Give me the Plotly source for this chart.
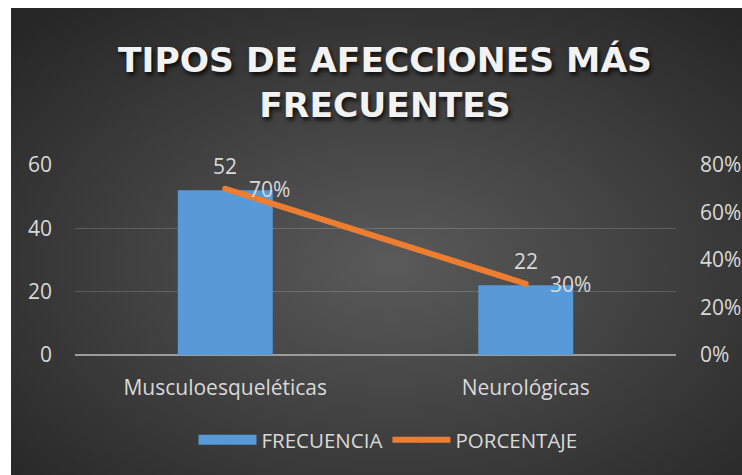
import base64
import plotly.graph_objects as go

categories = ["Musculoesqueléticas", "Neurológicas"]
frecuencia = [52, 22]
porcentaje = [0.70, 0.30]
left_ticks = [0, 20, 40, 60]
right_ticks = [0, 0.2, 0.4, 0.6, 0.8]
right_tick_labels = ["0%", "20%", "40%", "60%", "80%"]
title_text = "TIPOS DE AFECCIONES MÁS<br>FRECUENTES"

W, H = 742, 475
L, R, T, B = 75, 66, 165, 120
pw, ph = W - L - R, H - T - B
# dark chart area (white strip on left/top like the reference)
DX, DY, DW, DH = 11, 8, 731, 467

svg = (
    f'<svg xmlns="http://www.w3.org/2000/svg" width="{DW}" height="{DH}" viewBox="0 0 {DW} {DH}" preserveAspectRatio="none">'
    '<defs><radialGradient id="g" cx="0.52" cy="0.55" r="0.72">'
    '<stop offset="0" stop-color="#5a5a5a"/><stop offset="1" stop-color="#262626"/>'
    f'</radialGradient></defs><rect width="{DW}" height="{DH}" fill="url(#g)"/></svg>'
)
src = "data:image/svg+xml;base64," + base64.b64encode(svg.encode()).decode()

txt = "#d9d9d9"
FONT = "Open Sans"
FS = 21
fig = go.Figure()
fig.add_trace(go.Bar(
    x=categories, y=frecuencia, name="FRECUENCIA", showlegend=False,
    marker=dict(color="#5899d8", line=dict(width=0)), width=0.316,
))
# legend entry for the bars (wide rectangle swatch)
fig.add_trace(go.Scatter(
    x=[None], y=[None], name="FRECUENCIA", mode="lines",
    line=dict(color="#5899d8", width=14),
))
fig.add_trace(go.Scatter(
    x=categories, y=porcentaje, name="PORCENTAJE", yaxis="y2",
    mode="lines+markers", line=dict(color="#ed7d31", width=6),
    marker=dict(color="#ed7d31", size=6),
))

ann = []
for c, v in zip(categories, frecuencia):
    ann.append(dict(x=c, y=v, xref="x", yref="y", text=str(v), showarrow=False,
                    yanchor="middle", yshift=24, font=dict(family=FONT, size=FS, color=txt)))
for c, p in zip(categories, porcentaje):
    ann.append(dict(x=c, y=p, xref="x", yref="y2", text=f"{round(p*100)}%", showarrow=False,
                    xanchor="left", xshift=22, yanchor="middle",
                    font=dict(family=FONT, size=FS, color=txt)))

fig.update_layout(
    width=W, height=H,
    margin=dict(l=L, r=R, t=T, b=B, pad=0, autoexpand=False),
    paper_bgcolor="white", plot_bgcolor="rgba(0,0,0,0)",
    title=dict(text=title_text, x=385 / W, xref="container", xanchor="center",
               y=1 - 72 / H, yref="container", yanchor="middle",
               font=dict(family="DejaVu Sans", size=34.5, color="#f2f2f2", weight="bold",
                         shadow="2px 3px 4px rgba(0,0,0,0.8)")),
    images=[dict(source=src, xref="paper", yref="paper",
                 x=(DX - L) / pw, y=(H - B - DY) / ph, sizex=DW / pw, sizey=DH / ph,
                 xanchor="left", yanchor="top", sizing="stretch", layer="below")],
    xaxis=dict(showgrid=False, showline=False, ticks="", ticklabelstandoff=18,
               automargin=False, tickfont=dict(family=FONT, size=FS, color=txt)),
    yaxis=dict(range=[0, 60], tickvals=left_ticks, showgrid=True,
               gridcolor="rgba(255,255,255,0.17)", gridwidth=1,
               zeroline=True, zerolinecolor="#9c9c9c", zerolinewidth=2,
               ticks="", ticklabelstandoff=22, automargin=False,
               tickfont=dict(family=FONT, size=FS, color=txt)),
    yaxis2=dict(range=[0, 0.8], tickvals=right_ticks, ticktext=right_tick_labels,
                overlaying="y", side="right", showgrid=False, zeroline=False,
                ticks="", ticklabelstandoff=23, automargin=False,
                tickfont=dict(family=FONT, size=FS, color=txt)),
    legend=dict(orientation="h", x=(388 - L) / pw, xanchor="center",
                y=(H - B - 440) / ph, yanchor="middle",
                font=dict(family=FONT, size=20.5, color=txt), bgcolor="rgba(0,0,0,0)",
                itemwidth=58),
    annotations=ann,
    showlegend=True,
)
fig.write_html("out.html", config={"displayModeBar": False},
               post_script="document.body.style.margin='0';document.body.style.overflow='hidden';")
